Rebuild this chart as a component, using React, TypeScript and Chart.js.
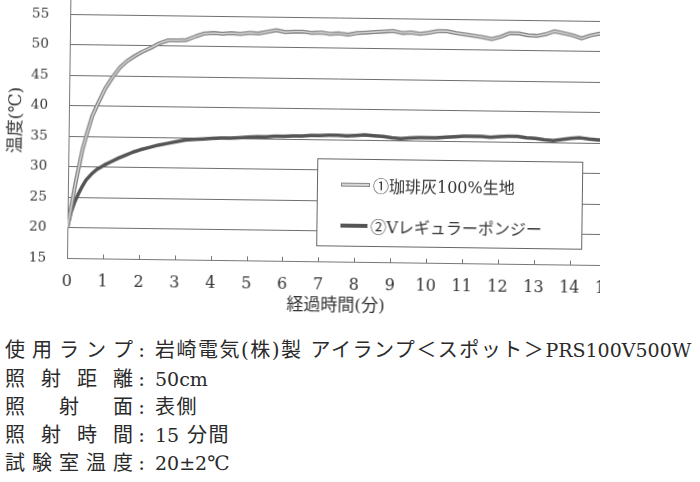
import React, { useEffect, useRef } from 'react';
import { Chart, registerables } from 'chart.js';

Chart.register(...registerables);

const FONT = '"DejaVu Serif", "Noto Sans CJK JP", serif';

// elapsed time (min)
const minutes = [
  0, 0.1, 0.2, 0.3, 0.4, 0.5, 0.65, 0.8, 1.0, 1.2, 1.4, 1.6, 1.8, 2.0,
  2.25, 2.5, 2.75, 3.0, 3.25, 3.5, 3.75, 4.0, 4.25, 4.5, 4.75, 5.0, 5.25,
  5.5, 5.75, 6.0, 6.25, 6.5, 6.75, 7.0, 7.25, 7.5, 7.75, 8.0, 8.25, 8.5,
  8.75, 9.0, 9.25, 9.5, 9.75, 10.0, 10.25, 10.5, 10.75, 11.0, 11.25, 11.5,
  11.75, 12.0, 12.25, 12.5, 12.75, 13.0, 13.25, 13.5, 13.75, 14.0, 14.25,
  14.5, 14.75, 15.0,
];

// ① coffee ash 100% fabric (°C)
const coffeeAsh = [
  20, 23.5, 27, 30, 33, 35.2, 38.3, 40.3, 42.8, 44.7, 46.3, 47.4, 48.2, 48.9,
  49.6, 50.4, 50.9, 50.9, 51.0, 51.6, 52.1, 52.2, 52.1, 52.2, 52.1, 52.3, 52.2,
  52.5, 52.8, 52.5, 52.6, 52.6, 52.4, 52.5, 52.3, 52.4, 52.2, 52.5, 52.6, 52.7,
  52.8, 52.9, 52.6, 52.7, 52.5, 52.7, 53.0, 53.0, 52.7, 52.5, 52.3, 52.1,
  51.8, 52.2, 52.8, 52.8, 52.5, 52.4, 52.7, 53.2, 52.9, 52.6, 52.1,
  52.6, 52.9, 52.7,
];

// ② V regular pongee (°C)
const regularPongee = [
  20, 22.6, 24.3, 25.6, 26.8, 27.8, 28.8, 29.6, 30.3, 30.9, 31.5, 32.0, 32.5, 32.9,
  33.3, 33.7, 34.0, 34.3, 34.6, 34.7, 34.8, 34.9, 35.0, 35.0, 35.1, 35.2, 35.3,
  35.3, 35.4, 35.4, 35.5, 35.5, 35.6, 35.6, 35.7, 35.7, 35.6, 35.7, 35.8, 35.7,
  35.6, 35.4, 35.3, 35.4, 35.5, 35.5, 35.5, 35.6, 35.7, 35.8, 35.8, 35.8,
  35.7, 35.8, 35.9, 35.9, 35.7, 35.6, 35.4, 35.3, 35.5, 35.7, 35.8,
  35.6, 35.5, 35.5,
];

const seriesNames = ['①珈琲灰100%生地', '②Vレギュラーポンジー'];
const yTitle = '温度(℃)';
const xTitle = '経過時間(分)';

const notes = [
  ['使用ランプ', '岩崎電気(株)製 アイランプ＜スポット＞PRS100V500W'],
  ['照射距離', '50cm'],
  ['照射面', '表側'],
  ['照射時間', '15 分間'],
  ['試験室温度', '20±2℃'],
];

// small tick marks pointing into the plot, as in the print
const innerTicks = {
  id: 'innerTicks',
  afterDraw(chart: any) {
    const { ctx, chartArea } = chart;
    const x = chart.scales.x;
    ctx.save();
    ctx.strokeStyle = '#777';
    ctx.lineWidth = 1;
    x.ticks.forEach((t: any) => {
      const px = Math.round(x.getPixelForValue(t.value)) + 0.5;
      ctx.beginPath();
      ctx.moveTo(px, chartArea.bottom);
      ctx.lineTo(px, chartArea.bottom - 4);
      ctx.stroke();
    });
    ctx.restore();
  },
};

// light core on series ① so it looks like the hollow printed line
const hollowLine = {
  id: 'hollowLine',
  afterDatasetDraw(chart: any, args: any) {
    if (args.index !== 0) return;
    const { ctx, chartArea } = chart;
    const pts = args.meta.data;
    ctx.save();
    ctx.beginPath();
    ctx.rect(chartArea.left, chartArea.top, chartArea.width, chartArea.height);
    ctx.clip();
    ctx.strokeStyle = '#d6d6d6';
    ctx.lineWidth = 1.4;
    ctx.lineJoin = 'round';
    ctx.beginPath();
    pts.forEach((p: any, i: number) => (i ? ctx.lineTo(p.x, p.y) : ctx.moveTo(p.x, p.y)));
    ctx.stroke();
    ctx.restore();
  },
};

const TemperatureChart: React.FC = () => {
  const ref = useRef<HTMLCanvasElement>(null);

  useEffect(() => {
    if (!ref.current) return;

    const chart = new Chart(ref.current, {
      type: 'line',
      data: {
        datasets: [
          {
            label: seriesNames[0],
            data: minutes.map((m, i) => ({ x: m, y: coffeeAsh[i] })),
            borderColor: '#858585',
            borderWidth: 4,
            pointRadius: 0,
            tension: 0,
            borderJoinStyle: 'round',
          },
          {
            label: seriesNames[1],
            data: minutes.map((m, i) => ({ x: m, y: regularPongee[i] })),
            borderColor: '#555',
            borderWidth: 3.5,
            pointRadius: 0,
            tension: 0,
            borderJoinStyle: 'round',
          },
        ],
      },
      options: {
        animation: false,
        responsive: true,
        maintainAspectRatio: false,
        layout: { padding: { top: 13.5, right: 14.5, left: 0, bottom: 0 } },
        plugins: {
          legend: { display: false },
          tooltip: { enabled: false },
        },
        scales: {
          x: {
            type: 'linear',
            min: 0,
            max: 15,
            ticks: {
              stepSize: 1,
              padding: 14,
              color: '#333',
              font: { family: FONT, size: 16 },
            },
            grid: { drawOnChartArea: false, drawTicks: false },
            border: { color: '#777', width: 1 },
            title: {
              display: true,
              text: xTitle,
              color: '#333',
              font: { family: FONT, size: 17 },
              padding: { top: 0, bottom: 5 },
            },
            afterFit: (scale: any) => {
              scale.height = 60;
              scale.paddingLeft = 0;
              scale.paddingRight = 0;
            },
          },
          y: {
            min: 15,
            max: 60,
            ticks: {
              stepSize: 5,
              padding: 21,
              color: '#333',
              font: { family: FONT, size: 13.5 },
            },
            grid: { color: '#6e6e6e', lineWidth: 1, drawTicks: false },
            border: { color: '#777', width: 1 },
            title: {
              display: true,
              text: yTitle,
              color: '#333',
              font: { family: FONT, size: 17 },
              padding: { top: 4, bottom: 0 },
            },
            afterFit: (scale: any) => {
              scale.width = 67;
              scale.paddingTop = 0;
              scale.paddingBottom = 0;
            },
          },
        },
      },
      plugins: [innerTicks, hollowLine],
    });

    return () => {
      chart.destroy();
    };
  }, []);

  return <canvas ref={ref}></canvas>;
};

const LegendBox: React.FC = () => (
  <div
    style={{
      position: 'absolute',
      left: 316,
      top: 185,
      width: 266,
      height: 88,
      boxSizing: 'border-box',
      border: '1px solid #666',
      background: '#fff',
      fontFamily: FONT,
      fontSize: 16,
      color: '#333',
    }}
  >
    {seriesNames.map((name, i) => (
      <div
        key={name}
        style={{
          position: 'absolute',
          left: 23,
          top: i === 0 ? 14 : 55,
          height: 22,
          display: 'flex',
          alignItems: 'center',
          whiteSpace: 'nowrap',
        }}
      >
        <span
          style={{
            display: 'inline-block',
            width: 27,
            height: i === 0 ? 1.4 : 3.5,
            background: i === 0 ? '#d6d6d6' : '#555',
            border: i === 0 ? '1.3px solid #858585' : 'none',
            marginRight: 3,
          }}
        />
        <span>{name}</span>
      </div>
    ))}
  </div>
);

// latin runs are set a little smaller than the kanji, as in the print
const renderValue = (v: string) =>
  v.split(/([A-Za-z0-9±.]+)/).map((part, i) =>
    i % 2 ? (
      <span key={i} style={{ fontSize: 19, letterSpacing: 0 }}>
        {part}
      </span>
    ) : (
      <span key={i}>{part}</span>
    )
  );

const App: React.FC = () => (
  <div
    style={{
      position: 'fixed',
      left: 0,
      top: 0,
      width: 700,
      height: 482,
      background: '#fff',
      overflow: 'hidden',
      fontFamily: FONT,
    }}
  >
    <div style={{ position: 'absolute', left: 0, top: 0, width: 600, height: 320, overflow: 'hidden' }}>
      <div
        style={{
          position: 'absolute',
          left: 0,
          top: -30,
          width: 620,
          height: 348,
          transform: 'rotate(0.75deg)',
          transformOrigin: '67px 288px',
        }}
      >
        <TemperatureChart />
        <LegendBox />
      </div>
    </div>
    <div
      style={{
        position: 'absolute',
        left: 5,
        top: 336.4,
        fontSize: 20,
        lineHeight: '28.2px',
        letterSpacing: 1.5,
        color: '#2a2a2a',
      }}
    >
      {notes.map(([label, value]) => (
        <div key={label} style={{ display: 'flex', whiteSpace: 'nowrap' }}>
          <span style={{ display: 'flex', justifyContent: 'space-between', width: 128, letterSpacing: 0 }}>
            {label.split('').map((c, i) => (
              <span key={i}>{c}</span>
            ))}
          </span>
          <span style={{ display: 'inline-block', width: 17, textAlign: 'center', letterSpacing: 0 }}>:</span>
          <span style={{ marginLeft: 5 }}>{renderValue(value)}</span>
        </div>
      ))}
    </div>
  </div>
);

export default App;
